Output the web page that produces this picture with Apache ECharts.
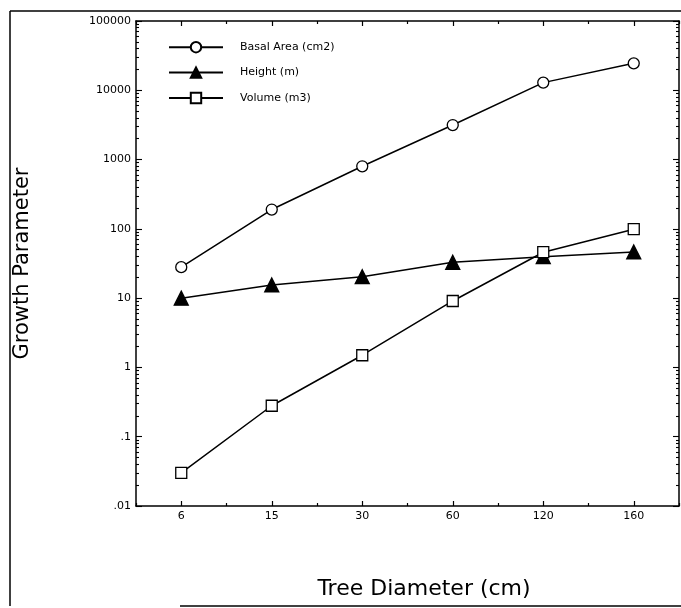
<!DOCTYPE html>
<html>
<head>
<meta charset="utf-8">
<script src="https://cdn.jsdelivr.net/npm/echarts@6/dist/echarts.min.js"></script>
<style>html,body{margin:0;padding:0;background:#fff;}#c{width:681px;height:608px;}</style>
</head>
<body>
<div id="c"></div>
<script>
// ---- data ----
var categories = ['6', '15', '30', '60', '120', '160'];
var basalArea = [28, 190, 800, 3150, 12900, 24500];
var heightM = [10, 15.5, 20.4, 32.9, 39.7, 46.4];
var volumeM3 = [0.030, 0.28, 1.5, 9.1, 46, 99];
var yTickValues = [0.01, 0.1, 1, 10, 100, 1000, 10000, 100000];
var yTickLabels = ['.01', '.1', '1', '10', '100', '1000', '10000', '100000'];
var seriesNames = ['Basal Area (cm2)', 'Height (m)', 'Volume (m3)'];

var minorY = [];
for (var d = 0; d < yTickValues.length - 1; d++) {
  for (var k = 2; k <= 9; k++) minorY.push(+(yTickValues[d] * k).toPrecision(6));
}

var chart = echarts.init(document.getElementById('c'), null, {renderer: 'canvas'});
var FONT = 'DejaVu Sans';
var lineCol = '#000';

function xAx(pos, major, show) {
  return {
    type: 'category', data: categories, position: pos, boundaryGap: true,
    axisLine: {show: show, onZero: false, lineStyle: {color: lineCol, width: 1.5}},
    axisTick: {show: true, inside: true, alignWithLabel: major, length: major ? 5 : 3, lineStyle: {color: lineCol, width: 1.2}},
    axisLabel: {show: false}, splitLine: {show: false}
  };
}
function yAx(pos, major, show) {
  return {
    type: 'log', logBase: 10, min: 0.01, max: 100000, position: pos,
    axisLine: {show: show, onZero: false, lineStyle: {color: lineCol, width: 1.5}},
    axisTick: {show: true, inside: true, length: major ? 6 : 3, customValues: major ? yTickValues : minorY, lineStyle: {color: lineCol, width: 1.1}},
    axisLabel: {show: false}, splitLine: {show: false}
  };
}

var xMain = xAx('bottom', true, true);
xMain.axisLabel = {show: true, color: '#000', fontFamily: FONT, fontSize: 11, margin: 5};
xMain.name = 'Tree Diameter (cm)';
xMain.nameLocation = 'middle';
xMain.nameGap = 72;
xMain.nameTextStyle = {color: '#000', fontFamily: FONT, fontSize: 22, padding: [0, 0, 0, 33]};

var yMain = yAx('left', true, true);
yMain.axisLabel = {show: true, color: '#000', fontFamily: FONT, fontSize: 11, margin: 5,
  customValues: yTickValues,
  formatter: function (v) {
    var e = Math.round(Math.log10(v));
    var idx = yTickValues.findIndex(function (t) { return Math.round(Math.log10(t)) === e; });
    return idx >= 0 ? yTickLabels[idx] : '';
  }};
yMain.name = 'Growth Parameter';
yMain.nameLocation = 'middle';
yMain.nameGap = 103;
yMain.nameTextStyle = {color: '#000', fontFamily: FONT, fontSize: 21};

function mkSeries(name, data, symbol, size, filled) {
  return {
    name: name, type: 'line', data: data, xAxisIndex: 0, yAxisIndex: 0,
    symbol: symbol, symbolSize: size, showAllSymbol: true,
    lineStyle: {color: '#000', width: 1.5},
    itemStyle: {color: filled ? '#000' : '#fff', borderColor: '#000', borderWidth: 1.3},
    emphasis: {disabled: true}, animation: false
  };
}

chart.setOption({
  backgroundColor: '#fff',
  animation: false,
  grid: {left: 136, right: 2, top: 21, bottom: 102, containLabel: false},
  legend: {
    orient: 'vertical', left: 163, top: 36, itemWidth: 54, itemHeight: 13, itemGap: 13,
    data: seriesNames,
    textStyle: {color: '#000', fontFamily: FONT, fontSize: 11, padding: [0, 0, 0, 12]},
    selectedMode: false
  },
  xAxis: [xMain, xAx('bottom', false, false), xAx('top', true, true), xAx('top', false, false)],
  yAxis: [yMain, yAx('left', false, false), yAx('right', true, true), yAx('right', false, false)],
  series: [
    mkSeries(seriesNames[0], basalArea, 'circle', 11, false),
    mkSeries(seriesNames[1], heightM, 'triangle', 14, true),
    mkSeries(seriesNames[2], volumeM3, 'rect', 11, false)
  ],
  graphic: [
    {type: 'line', shape: {x1: 10, y1: 11, x2: 681, y2: 11}, style: {stroke: '#000', lineWidth: 1.5}, silent: true},
    {type: 'line', shape: {x1: 10, y1: 11, x2: 10, y2: 606}, style: {stroke: '#000', lineWidth: 1.5}, silent: true},
    {type: 'line', shape: {x1: 180, y1: 606, x2: 681, y2: 606}, style: {stroke: '#000', lineWidth: 1.5}, silent: true}
  ]
});
</script>
</body>
</html>
